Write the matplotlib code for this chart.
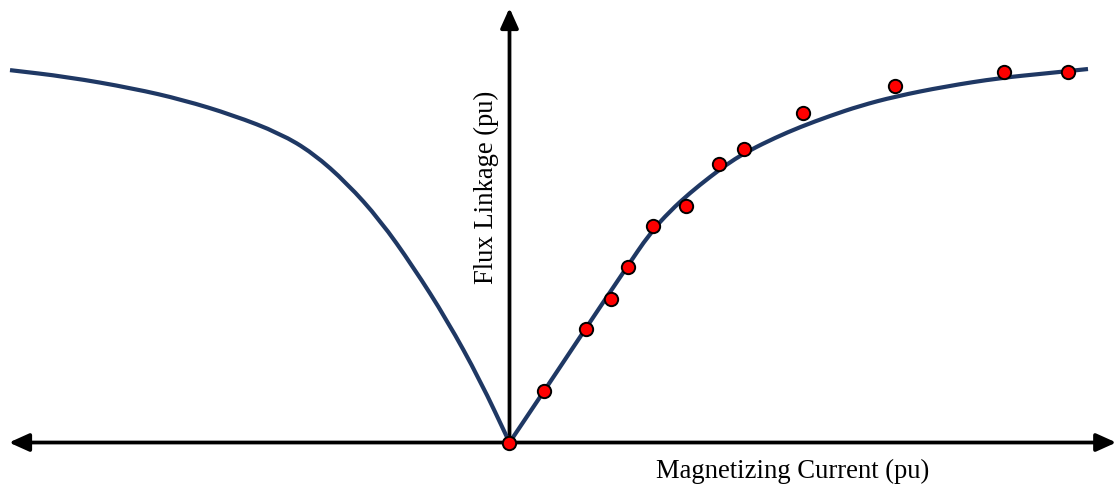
import matplotlib
matplotlib.use("Agg")
import matplotlib.pyplot as plt
from matplotlib.patches import ArrowStyle, PathPatch
from matplotlib.path import Path

# Magnetizing curve (pu)
left_current = [-0.999, -0.885, -0.753, -0.653, -0.553, -0.459, -0.393, -0.325,
                -0.259, -0.193, -0.125, -0.059, 0.0]
left_flux = [1.001, 0.983, 0.952, 0.921, 0.880, 0.831, 0.778, 0.697,
             0.598, 0.473, 0.329, 0.168, 0.0]

right_current = [0.0, 0.061, 0.121, 0.181, 0.231, 0.281, 0.321, 0.361, 0.401,
                 0.441, 0.481, 0.531, 0.581, 0.641, 0.701, 0.771, 0.871, 0.981,
                 1.071, 1.157]
right_flux = [0.0, 0.122, 0.243, 0.364, 0.464, 0.563, 0.622, 0.671, 0.714,
              0.754, 0.786, 0.819, 0.848, 0.878, 0.905, 0.930, 0.957, 0.980,
              0.992, 1.004]

# Measured points
meas_current = [0.0, 0.069, 0.152, 0.203, 0.236, 0.286, 0.353, 0.419, 0.469,
                0.586, 0.771, 0.988, 1.116]
meas_flux = [0.0, 0.138, 0.304, 0.387, 0.471, 0.581, 0.637, 0.748, 0.788,
             0.885, 0.959, 0.997, 0.997]

x_label = "Magnetizing Current (pu)"
y_label = "Flux Linkage (pu)"

plt.rcParams['font.family'] = ['Liberation Serif', 'DejaVu Serif']

fig = plt.figure(figsize=(11.17, 4.94), dpi=100)
ax = fig.add_axes([0, 0, 1, 1])
ax.set_xlim(-1.019, 1.215)
ax.set_ylim(-0.1384, 1.1895)
ax.axis('off')

line_color = '#1F3864'


def smooth_path(xs, ys):
    """Quadratic-Bezier path that uses the read points as control points."""
    pts = list(zip(xs, ys))
    verts = [pts[0]]
    codes = [Path.MOVETO]
    mid = ((pts[0][0] + pts[1][0]) / 2, (pts[0][1] + pts[1][1]) / 2)
    verts.append(mid)
    codes.append(Path.LINETO)
    for i in range(1, len(pts) - 1):
        nxt = ((pts[i][0] + pts[i + 1][0]) / 2, (pts[i][1] + pts[i + 1][1]) / 2)
        verts += [pts[i], nxt]
        codes += [Path.CURVE3, Path.CURVE3]
    verts.append(pts[-1])
    codes.append(Path.LINETO)
    return Path(verts, codes)


for xs, ys in ((left_current, left_flux), (right_current, right_flux)):
    ax.add_patch(PathPatch(smooth_path(xs, ys), facecolor='none',
                           edgecolor=line_color, lw=3.0, zorder=2,
                           capstyle='butt', joinstyle='round'))

style2 = ArrowStyle('<|-|>', head_length=1.0, head_width=0.45)
style1 = ArrowStyle('-|>', head_length=1.0, head_width=0.45)
ax.annotate('', xy=(1.2135, 0), xytext=(-1.001, 0),
            arrowprops=dict(arrowstyle=style2, lw=2.7, color='black',
                            mutation_scale=12, shrinkA=0, shrinkB=0),
            zorder=1)
ax.annotate('', xy=(0, 1.168), xytext=(0, 0),
            arrowprops=dict(arrowstyle=style1, lw=2.7, color='black',
                            mutation_scale=12, shrinkA=0, shrinkB=0),
            zorder=1)

ax.plot(meas_current, meas_flux, linestyle='none', marker='o', markersize=9.6,
        markerfacecolor='#FF0000', markeredgecolor='black', markeredgewidth=1.4,
        zorder=3, clip_on=False)

ax.text(793 / 1117, 1 - 471 / 494, x_label, transform=ax.transAxes,
        ha='center', va='center', fontsize=19.2)
ax.text(486 / 1117, 1 - 187 / 494, y_label, transform=ax.transAxes,
        ha='center', va='center', rotation=90, fontsize=19.2)

fig.savefig('out.png', dpi=100)
